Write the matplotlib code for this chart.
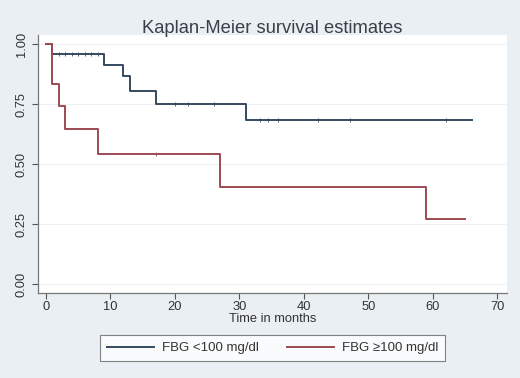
import numpy as np
import matplotlib.pyplot as plt

plt.rcParams['font.family'] = ['Liberation Sans', 'DejaVu Sans']

# Kaplan-Meier curves, values
t_low = [0, 1, 9, 12, 13, 17, 31, 66]
s_low = [1.0, 0.958, 0.912, 0.866, 0.806, 0.752, 0.684, 0.684]
cens_low_t = [2, 3, 4, 5, 6, 7, 8, 20, 22, 26, 33.2, 34.5, 36, 42.2, 47.1, 62.1]

t_high = [0, 1, 2, 3, 8, 27, 59, 65]
s_high = [1.0, 0.833, 0.741, 0.648, 0.540, 0.405, 0.270, 0.270]
cens_high_t = [17]

labels = ["FBG <100 mg/dl", "FBG \u2265100 mg/dl"]
xticks = [0, 10, 20, 30, 40, 50, 60, 70]
yticks = [0.0, 0.25, 0.5, 0.75, 1.0]

blue = '#34495f'
red = '#9c4a52'
bg = '#e9eff2'


def surv_at(t, s, x):
    i = np.searchsorted(t, x, side='right') - 1
    return s[i]


fig = plt.figure(figsize=(5.2, 3.78), dpi=100, facecolor=bg)
ax = fig.add_axes([0.073, 0.225, 0.902, 0.682])
ax.set_facecolor('white')

for yv in yticks:
    ax.axhline(yv, color='#eef1f3', lw=0.8, zorder=0)

ax.step(t_low, s_low, where='post', color=blue, lw=1.4, label=labels[0])
ax.step(t_high, s_high, where='post', color=red, lw=1.4, label=labels[1])

ax.scatter(cens_low_t, [surv_at(t_low, s_low, x) for x in cens_low_t],
           marker='|', s=6, color=blue, lw=0.6)
ax.scatter(cens_high_t, [surv_at(t_high, s_high, x) for x in cens_high_t],
           marker='|', s=6, color=red, lw=0.6)

ax.set_xlim(-1.25, 71.5)
ax.set_ylim(-0.0375, 1.0375)
ax.set_xticks(xticks)
ax.set_yticks(yticks)
ax.set_yticklabels(['%.2f' % v for v in yticks], rotation=90, va='center')
ax.tick_params(labelsize=9.3, colors='#555555', labelcolor='#333333', length=4, width=0.8)
ax.tick_params(axis='x', pad=2)
for sp in ['top', 'right']:
    ax.spines[sp].set_visible(False)
for sp in ['left', 'bottom']:
    ax.spines[sp].set_color('#777777')
    ax.spines[sp].set_linewidth(0.9)

ax.set_xlabel('Time in months', fontsize=9.3, color='#333333', labelpad=0)
fig.suptitle('Kaplan-Meier survival estimates', x=0.523, y=0.948,
             fontsize=13.2, color='#3a3f48')

leg = fig.legend(loc='center', bbox_to_anchor=(0.524, 0.079), ncol=2,
                 fontsize=9.5, fancybox=False, edgecolor='#666666',
                 handlelength=3.6, handletextpad=0.6, columnspacing=2.1,
                 borderpad=0.5)
leg.get_frame().set_linewidth(0.8)
for txt in leg.get_texts():
    txt.set_color('#333333')

fig.savefig('out.png', dpi=100, facecolor=fig.get_facecolor())
